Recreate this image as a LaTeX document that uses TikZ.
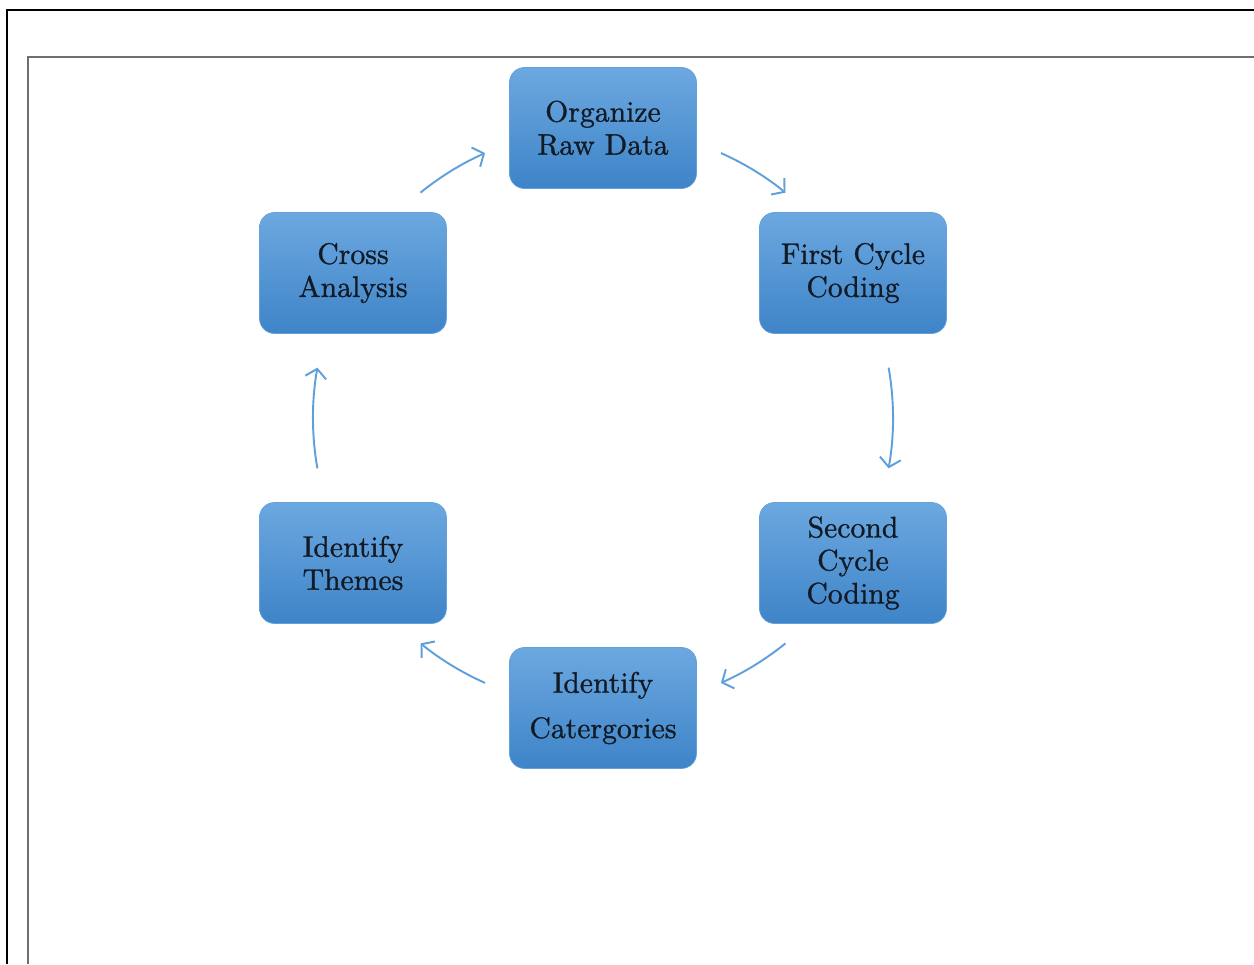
\documentclass[tikz,border=0pt]{standalone}
\usepackage{fontspec}
\newfontfamily\boxfont{lmroman10-regular.otf}[FakeBold=1.0]
\usetikzlibrary{arrows.meta}
\definecolor{boxtop}{RGB}{108,168,224}
\definecolor{boxbot}{RGB}{62,132,200}
\definecolor{boxedge}{RGB}{100,160,218}
\definecolor{txt}{RGB}{18,26,36}
\definecolor{arrowc}{RGB}{96,160,218}
\definecolor{framegray}{RGB}{110,110,110}
\tikzset{
  stepbox/.style={rectangle, rounded corners=0.3cm, minimum width=3.74cm, minimum height=2.42cm,
    inner sep=0pt, top color=boxtop, bottom color=boxbot, draw=boxedge, line width=0.4pt,
    text=txt, align=center, font=\boxfont\fontsize{16.9}{18.8}\selectfont},
  cyc/.style={draw=arrowc, line width=1.1pt, -{Straight Barb[length=5pt,width=12pt]}},
}
\begin{document}
\begin{tikzpicture}[x=0.02cm,y=0.02cm]
\useasboundingbox (0,0) rectangle (1254,964);
% frames
\draw[black, line width=1.3pt] (7,0) -- (7,954) -- (1254,954);
\draw[framegray, line width=1.3pt] (28,0) -- (28,907) -- (1254,907);
% nodes
\coordinate (c) at (603,546);
\node[stepbox] (org) at (603,836) {Organize\\Raw Data};
\node[stepbox] (first) at (853,691) {First Cycle\\Coding};
\node[stepbox] (second) at (853,401) {Second\\Cycle\\Coding};
\node[stepbox] (cat) at (603,256) {Identify\\[7pt]Catergories};
\node[stepbox] (themes) at (353,401) {Identify\\Themes};
\node[stepbox] (cross) at (353,691) {Cross\\Analysis};
% arrow start points on the cycle circle
\path (c) ++(66:290) coordinate (a1);
\path (c) ++(10:290) coordinate (a2);
\path (c) ++(-51:290) coordinate (a3);
\path (c) ++(-114:290) coordinate (a4);
\path (c) ++(190:290) coordinate (a5);
\path (c) ++(129:290) coordinate (a6);
\draw[cyc] (a1) arc[start angle=66, end angle=51, radius=290];
\draw[cyc] (a2) arc[start angle=10, end angle=-10, radius=290];
\draw[cyc] (a3) arc[start angle=-51, end angle=-66, radius=290];
\draw[cyc] (a4) arc[start angle=-114, end angle=-129, radius=290];
\draw[cyc] (a5) arc[start angle=190, end angle=170, radius=290];
\draw[cyc] (a6) arc[start angle=129, end angle=114, radius=290];
\end{tikzpicture}
\end{document}
